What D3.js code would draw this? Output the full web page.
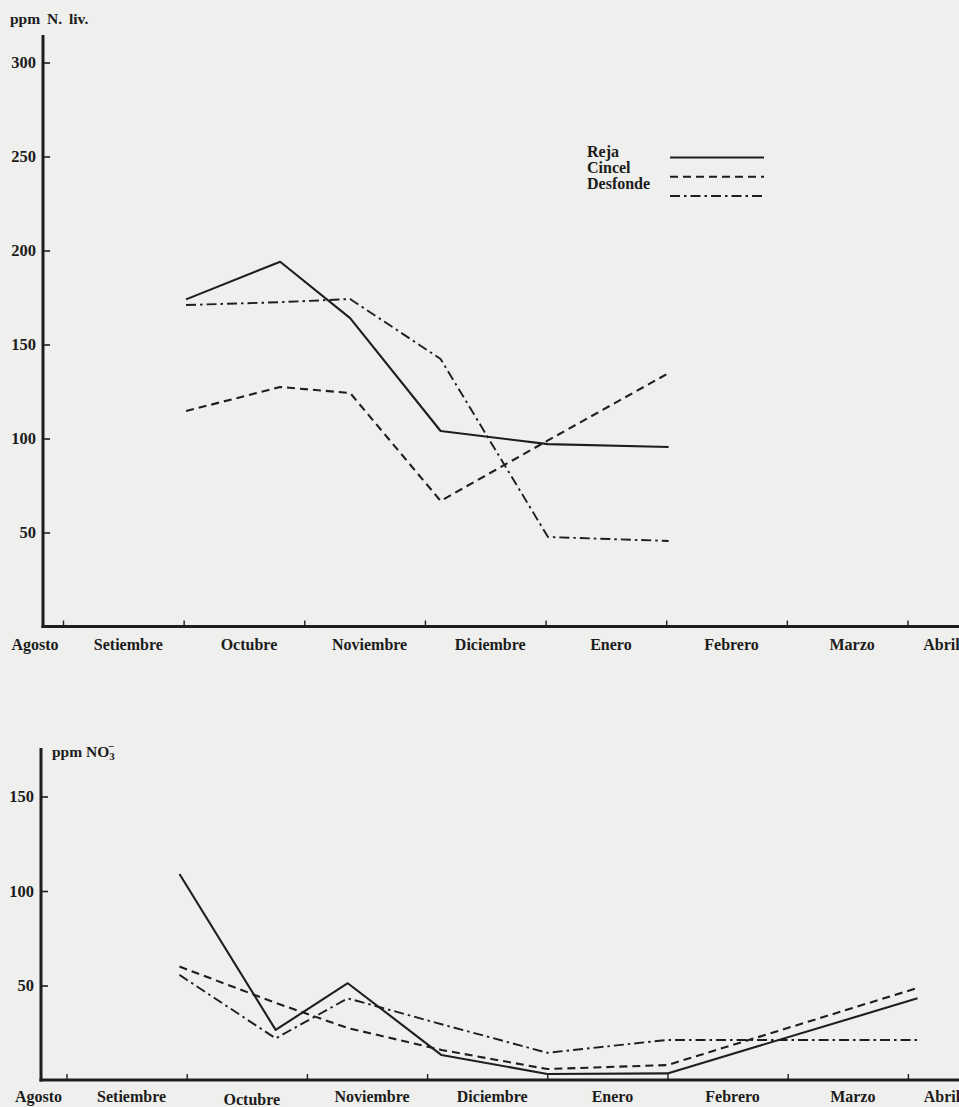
<!DOCTYPE html>
<html>
<head>
<meta charset="utf-8">
<script src="https://cdn.jsdelivr.net/npm/d3@7"></script>
<style>
  html, body { margin: 0; padding: 0; background: #efefed; }
  svg { display: block; }
  text { font-family: "Liberation Serif", "DejaVu Serif", serif; fill: #1c1c1c; }
</style>
</head>
<body>
<svg id="chart" width="959" height="1107"></svg>
<script>
// Month labels along the time axis (tick marks are month starts)
const meses = ["Agosto", "Setiembre", "Octubre", "Noviembre", "Diciembre", "Enero", "Febrero", "Marzo", "Abril"];
const tratamientos = ["Reja", "Cincel", "Desfonde"];

// Upper panel: nitrógeno livianamente ligado (ppm), sampling dates in months from 1 Sept
const fechasN = [1.02, 1.80, 2.38, 3.13, 4.02, 5.02];
const nReja     = [174, 194, 164, 104, 97, 95.5];
const nCincel   = [114.6, 127.4, 124.2, 66.8, 99, 134.8];
const nDesfonde = [171, 172.5, 174.2, 142.3, 47.6, 45.5];
const ticksN = [50, 100, 150, 200, 250, 300];

// Lower panel: nitratos (ppm)
const fechasNO3 = [0.94, 1.74, 2.34, 3.12, 4.00, 5.00, 7.08];
const no3Reja     = [109, 26.5, 51.2, 13.2, 3.2, 3.5, 43.2];
const no3Cincel   = [60, 40.8, 27.5, 15.9, 5.8, 7.9, 48.7];
const no3Desfonde = [55.6, 22, 43.2, 29.5, 14.4, 21.2, 21.2];
const ticksNO3 = [50, 100, 150];

const svg = d3.select("#chart");
const ink = "#1e1e1e";
const estilos = {
  Reja:     { dash: null,          width: 2.1 },
  Cincel:   { dash: "8,5",         width: 2.1 },
  Desfonde: { dash: "10,4,2.5,4",  width: 1.9 }
};

function panel(cfg) {
  const g = svg.append("g");
  const x = d3.scaleLinear().domain([0, 7]).range([cfg.x0, cfg.x7]);
  const y = d3.scaleLinear().domain([0, cfg.ymax]).range([cfg.base, cfg.ytop]);

  // vertical axis with inward ticks
  g.append("line")
    .attr("x1", cfg.axisX).attr("x2", cfg.axisX)
    .attr("y1", cfg.axisTop).attr("y2", cfg.base + 1.5)
    .attr("stroke", ink).attr("stroke-width", 3);
  const ya = g.append("g")
    .attr("transform", `translate(${cfg.axisX},0)`)
    .call(d3.axisLeft(y).tickValues(cfg.ticks).tickSize(-7).tickPadding(7).tickFormat(d3.format("d")));
  ya.select(".domain").remove();
  ya.selectAll(".tick line").attr("stroke", ink).attr("stroke-width", 1.6);
  ya.selectAll(".tick text")
    .style("font-family", "'Liberation Serif', serif")
    .style("font-size", "16.5px").style("font-weight", "bold").attr("fill", ink);

  // horizontal axis with upward month ticks
  g.append("line")
    .attr("x1", cfg.axisX - 1.5).attr("x2", 959)
    .attr("y1", cfg.base).attr("y2", cfg.base)
    .attr("stroke", ink).attr("stroke-width", 3);
  const xa = g.append("g")
    .attr("transform", `translate(0,${cfg.base})`)
    .call(d3.axisTop(x).tickValues(d3.range(0, 8)).tickSize(6).tickFormat(""));
  xa.select(".domain").remove();
  xa.selectAll(".tick line").attr("stroke", ink).attr("stroke-width", 1.4);

  // month names set inside each month interval; first and last pulled to the ends
  const posMes = i => i === 0 ? x(0) - 28 : (i === meses.length - 1 ? x(7) + 34 : x(i - 0.5) + 5);
  g.selectAll("text.mes").data(meses).join("text")
    .attr("class", "mes")
    .attr("x", (d, i) => posMes(i))
    .attr("y", (d, i) => cfg.base + cfg.labelDy + (cfg.lowered && cfg.lowered.includes(d) ? 3 : 0))
    .attr("text-anchor", "middle")
    .style("font-size", "16px").style("font-weight", "bold")
    .text(d => d);

  const line = d3.line().x(d => x(d[0])).y(d => y(d[1]));
  cfg.series.forEach((vals, k) => {
    const st = estilos[tratamientos[k]];
    g.append("path")
      .datum(cfg.fechas.map((f, i) => [f, vals[i]]))
      .attr("d", line)
      .attr("fill", "none")
      .attr("stroke", ink)
      .attr("stroke-width", st.width)
      .attr("stroke-linejoin", "round")
      .attr("stroke-dasharray", st.dash);
  });
  return g;
}

panel({
  axisX: 43, axisTop: 35, base: 626.5, ytop: 62.5, ymax: 300,
  x0: 63, x7: 907.5, labelDy: 23,
  ticks: ticksN, fechas: fechasN,
  series: [nReja, nCincel, nDesfonde]
});

panel({
  axisX: 41, axisTop: 748, base: 1080, ytop: 796.5, ymax: 150,
  x0: 66.5, x7: 907.9, labelDy: 22, lowered: ["Octubre"],
  ticks: ticksNO3, fechas: fechasNO3,
  series: [no3Reja, no3Cincel, no3Desfonde]
});

// axis titles
svg.append("text").attr("x", 10).attr("y", 24)
  .style("font-size", "15.5px").style("font-weight", "bold")
  .style("word-spacing", "3px")
  .text("ppm N. liv.");
const t2 = svg.append("text").attr("x", 52).attr("y", 757)
  .style("font-size", "15.5px").style("font-weight", "bold");
t2.append("tspan").text("ppm NO");
t2.append("tspan").attr("dy", 3).style("font-size", "11px").text("3");
t2.append("tspan").attr("dx", -7).attr("dy", -10).style("font-size", "11px").text("−");

// legend
const leg = svg.append("g");
tratamientos.forEach((nombre, i) => {
  leg.append("text").attr("x", 587).attr("y", 157 + i * 16)
    .style("font-size", "16px").style("font-weight", "bold")
    .text(nombre);
  const st = estilos[nombre];
  leg.append("line")
    .attr("x1", 670).attr("x2", 764)
    .attr("y1", 157.5 + i * 19.2).attr("y2", 157.5 + i * 19.2)
    .attr("stroke", ink).attr("stroke-width", 2)
    .attr("stroke-dasharray", st.dash);
});
</script>
</body>
</html>
